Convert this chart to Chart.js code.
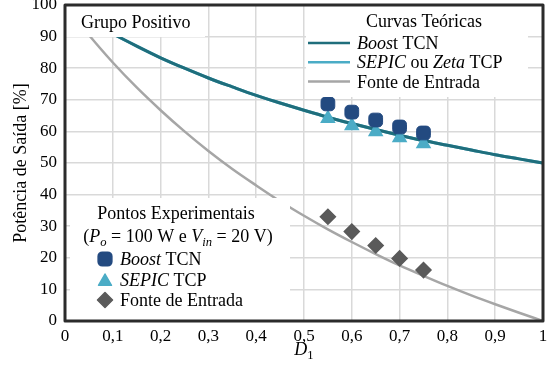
<!DOCTYPE html>
<html>
<head>
<meta charset="utf-8">
<script src="https://cdn.jsdelivr.net/npm/chart.js@4.4.0/dist/chart.umd.min.js"></script>
<style>
  html, body { margin: 0; padding: 0; background: #fff; }
  #wrap { width: 558px; height: 365px; }
</style>
</head>
<body>
<div id="wrap"><canvas id="chart"></canvas></div>
<script>
// theoretical curves
const dutyTheory  = [0.02, 0.05, 0.1, 0.15, 0.2, 0.25, 0.3, 0.35, 0.4, 0.45, 0.5, 0.55, 0.6, 0.65, 0.7, 0.75, 0.8, 0.85, 0.9, 0.95, 1.0];
const boostTheory = [98.0, 95.2, 90.9, 87.0, 83.3, 80.0, 76.9, 74.1, 71.4, 69.0, 66.7, 64.5, 62.5, 60.6, 58.8, 57.1, 55.6, 54.1, 52.6, 51.3, 50.0];
const inputTheory = [96.1, 90.5, 81.8, 73.9, 66.7, 60.0, 53.8, 48.1, 42.9, 37.9, 33.3, 29.0, 25.0, 21.2, 17.6, 14.3, 11.1, 8.1, 5.3, 2.6, 0.0];

// experimental points
const dutyExp  = [0.55, 0.6, 0.65, 0.7, 0.75];
const boostExp = [68.7, 66.1, 63.6, 61.4, 59.5];
const sepicExp = [64.1, 61.8, 59.9, 58.0, 56.1];
const inputExp = [33.0, 28.3, 23.9, 19.8, 16.1];

const xTicks = [0, 0.1, 0.2, 0.3, 0.4, 0.5, 0.6, 0.7, 0.8, 0.9, 1];

const SERIF = '"Liberation Serif", "DejaVu Serif", serif';
const TEAL = '#1f6e7c', CYAN = '#4bacc6', GRAY = '#a6a6a6', NAVY = '#234a80', DARK = '#5a5a5a';

const pts = (xs, ys) => xs.map((x, i) => ({ x: x, y: ys[i] }));

// text made of runs: {t, it, sub}
function setFont(ctx, p, size) {
    ctx.font = (p.it ? 'italic ' : '') + (p.sub ? size * 0.7 : size) + 'px ' + SERIF;
}
function drawRich(ctx, parts, x, y, size, align) {
    let w = 0;
    parts.forEach(p => { setFont(ctx, p, size); w += ctx.measureText(p.t).width; });
    let cx = align === 'center' ? x - w / 2 : x;
    ctx.textAlign = 'left';
    ctx.textBaseline = 'alphabetic';
    ctx.fillStyle = '#000';
    parts.forEach(p => {
        setFont(ctx, p, size);
        ctx.fillText(p.t, cx, p.sub ? y + size * 0.22 : y);
        cx += ctx.measureText(p.t).width;
    });
}

const decorPlugin = {
    id: 'decor',
    afterDatasetsDraw(chart) {
        const ctx = chart.ctx;
        const a = chart.chartArea;
        const fs = 18;
        ctx.save();
        ctx.fillStyle = '#fff';
        // white boxes
        ctx.fillRect(a.left, a.top, 140, 32);
        ctx.fillRect(a.left + 241, a.top, 222, 92);
        ctx.fillRect(a.left + 5, a.top + 193, 220, a.bottom - a.top - 193);

        drawRich(ctx, [{ t: 'Grupo Positivo' }], a.left + 16, a.top + 23, fs);

        // theoretical legend
        const lx = a.left + 243;
        drawRich(ctx, [{ t: 'Curvas Teóricas' }], lx + 116, a.top + 22, fs, 'center');
        const rows = [
            { c: TEAL, parts: [{ t: 'Boos', it: true }, { t: 't TCN' }] },
            { c: CYAN, parts: [{ t: 'SEPIC', it: true }, { t: ' ou ' }, { t: 'Zeta', it: true }, { t: ' TCP' }] },
            { c: GRAY, parts: [{ t: 'Fonte de Entrada' }] }
        ];
        rows.forEach((r, i) => {
            const y = a.top + 38 + i * 19.3;
            ctx.strokeStyle = r.c;
            ctx.lineWidth = 2.5;
            ctx.beginPath();
            ctx.moveTo(lx, y);
            ctx.lineTo(lx + 42, y);
            ctx.stroke();
            drawRich(ctx, r.parts, lx + 49, y + 6, fs);
        });

        // experimental legend
        const ex = a.left + 111;
        drawRich(ctx, [{ t: 'Pontos Experimentais' }], ex, a.top + 214, fs, 'center');
        drawRich(ctx, [
            { t: '(' }, { t: 'P', it: true }, { t: 'o', it: true, sub: true },
            { t: ' = 100 W e ' }, { t: 'V', it: true }, { t: 'in', it: true, sub: true },
            { t: ' = 20 V)' }
        ], ex + 2, a.top + 237, fs, 'center');
        const mrows = [
            { style: 'rectRounded', r: 8, c: NAVY, parts: [{ t: 'Boost', it: true }, { t: ' TCN' }] },
            { style: 'triangle', r: 7.5, c: CYAN, parts: [{ t: 'SEPIC', it: true }, { t: ' TCP' }] },
            { style: 'rectRot', r: 7.5, c: DARK, parts: [{ t: 'Fonte de Entrada' }] }
        ];
        mrows.forEach((r, i) => {
            const y = a.top + 254 + i * 20.5;
            ctx.fillStyle = r.c;
            ctx.strokeStyle = r.c;
            ctx.lineWidth = 1.5;
            ctx.lineJoin = 'round';
            Chart.helpers.drawPoint(ctx, { pointStyle: r.style, radius: r.r, borderWidth: 1.5, rotation: 0 },
                a.left + 40, r.style === 'triangle' ? y + 2 : y);
            drawRich(ctx, r.parts, a.left + 55, y + 6, fs);
        });

        // frame
        ctx.strokeStyle = '#2b2b2b';
        ctx.lineWidth = 3;
        ctx.strokeRect(a.left, a.top, a.right - a.left, a.bottom - a.top);
        ctx.restore();
    },
    afterDraw(chart) {
        const ctx = chart.ctx;
        const a = chart.chartArea;
        ctx.save();
        // y title
        ctx.translate(21, (a.top + a.bottom) / 2);
        ctx.rotate(-Math.PI / 2);
        ctx.font = '18px ' + SERIF;
        ctx.fillStyle = '#000';
        ctx.textAlign = 'center';
        ctx.textBaseline = 'middle';
        ctx.fillText('Potência de Saída [%]', 0, 0);
        ctx.restore();
        ctx.save();
        drawRich(ctx, [{ t: 'D', it: true }, { t: '1', sub: true }], (a.left + a.right) / 2, 355, 18, 'center');
        ctx.restore();
    }
};

function build() {
    new Chart(document.getElementById('chart'), {
        type: 'scatter',
        data: {
            datasets: [
                { label: 'Boost TCN exp', data: pts(dutyExp, boostExp), pointStyle: 'rectRounded', pointRadius: 8,
                  backgroundColor: NAVY, borderColor: NAVY, borderWidth: 1 },
                { label: 'SEPIC TCP exp', data: pts(dutyExp, sepicExp), pointStyle: 'triangle', pointRadius: 7.5,
                  backgroundColor: CYAN, borderColor: CYAN, borderWidth: 1.5 },
                { label: 'Fonte exp', data: pts(dutyExp, inputExp), pointStyle: 'rectRot', pointRadius: 7.5,
                  backgroundColor: DARK, borderColor: DARK, borderWidth: 1.5 },
                { label: 'Boost TCN', data: pts(dutyTheory, boostTheory), showLine: true, pointRadius: 0,
                  borderColor: TEAL, borderWidth: 3, cubicInterpolationMode: 'monotone' },
                { label: 'SEPIC ou Zeta TCP', data: pts(dutyTheory, boostTheory), showLine: true, pointRadius: 0,
                  borderColor: CYAN, borderWidth: 3, cubicInterpolationMode: 'monotone' },
                { label: 'Fonte de Entrada', data: pts(dutyTheory, inputTheory), showLine: true, pointRadius: 0,
                  borderColor: GRAY, borderWidth: 2.5, cubicInterpolationMode: 'monotone' }
            ]
        },
        options: {
            responsive: true,
            maintainAspectRatio: false,
            animation: false,
            layout: { autoPadding: false, padding: { left: 0, right: 15, top: 5, bottom: 0 } },
            plugins: { legend: { display: false }, tooltip: { enabled: false } },
            scales: {
                x: {
                    type: 'linear', min: 0, max: 1,
                    afterFit: s => { s.height = 44; s.paddingLeft = 0; s.paddingRight = 0; },
                    afterBuildTicks: s => { s.ticks = xTicks.map(v => ({ value: v })); },
                    ticks: {
                        padding: 5, color: '#000', font: { family: SERIF, size: 17 },
                        callback: v => String(Math.round(v * 10) / 10).replace('.', ',')
                    },
                    grid: { color: '#d9d9d9', lineWidth: 1.5, drawTicks: false },
                    border: { display: false }
                },
                y: {
                    min: 0, max: 100,
                    afterFit: s => { s.width = 65; s.paddingTop = 0; s.paddingBottom = 0; },
                    ticks: { stepSize: 10, padding: 8, color: '#000', font: { family: SERIF, size: 17 } },
                    grid: { color: '#d9d9d9', lineWidth: 1.5, drawTicks: false },
                    border: { display: false }
                }
            }
        },
        plugins: [decorPlugin]
    });
}

Promise.all([
    document.fonts.load('17px "Liberation Serif"'),
    document.fonts.load('italic 17px "Liberation Serif"')
]).then(build, build);
</script>
</body>
</html>
